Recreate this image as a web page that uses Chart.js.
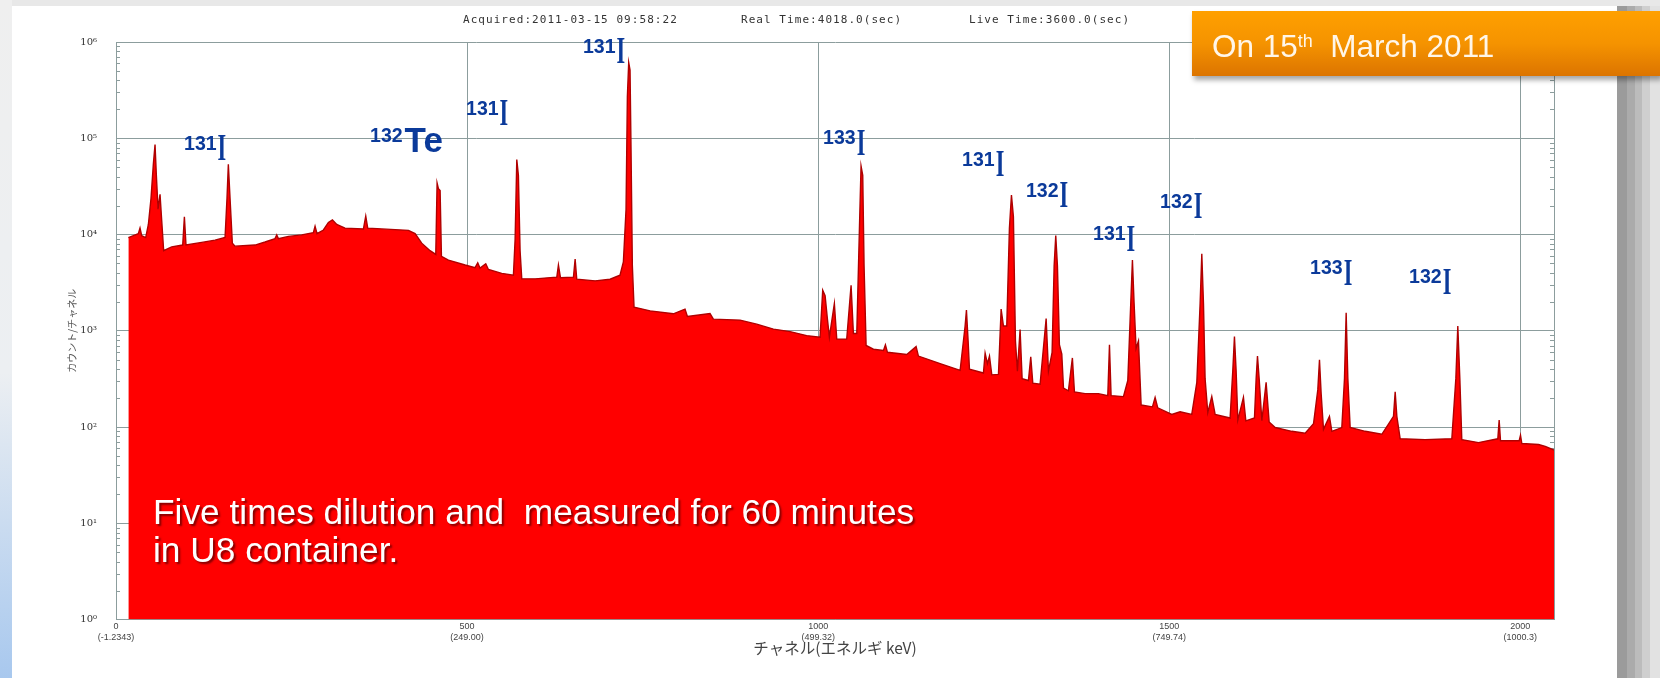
<!DOCTYPE html>
<html>
<head>
<meta charset="utf-8">
<script src="https://cdn.jsdelivr.net/npm/chart.js@4.4.0/dist/chart.umd.min.js"></script>
<style>
html,body{margin:0;padding:0;}
body{width:1660px;height:678px;position:relative;overflow:hidden;background:#fff;font-family:"Liberation Sans",Arial,sans-serif;}
#topband{position:absolute;left:0;top:0;width:1660px;height:6px;background:#e8e8e8;}
#leftband{position:absolute;left:0;top:0;width:12px;height:678px;background:linear-gradient(to bottom,#efefef 0%,#eceff2 55%,#a8c8ee 100%);}
#rightband{position:absolute;left:1617px;top:6px;width:43px;height:672px;background:linear-gradient(to right,#9b9b9b 0,#9b9b9b 10px,#ababab 10px,#ababab 18px,#bcbcbc 18px,#bcbcbc 25px,#cfcfcf 25px,#cfcfcf 33px,#e2e2e2 33px);}
#c{position:absolute;left:0;top:0;}
.hdr{position:absolute;top:14px;font:11px/12px "DejaVu Sans Mono",monospace;letter-spacing:1.05px;color:#333;white-space:pre;}
#datebox{position:absolute;left:1192px;top:11px;width:468px;height:65px;background:linear-gradient(to bottom,#ffa000 0%,#f59300 50%,#dc7400 100%);box-shadow:2px 4px 5px rgba(0,0,0,0.35);}
#datebox .dt{position:absolute;left:20px;top:13.4px;font:31.5px/35px "Liberation Sans",Arial,sans-serif;color:#fff6e8;white-space:pre;}
#datebox .sup{font-size:18px;vertical-align:9.5px;}
#note{position:absolute;left:153px;top:493px;font:35.3px/38px "Liberation Sans",Arial,sans-serif;color:#fff;white-space:pre;text-shadow:2px 2px 2px rgba(90,0,0,0.75);}
</style>
</head>
<body>
<div id="topband"></div>
<div id="leftband"></div>
<div id="rightband"></div>
<canvas id="c" width="1660" height="678"></canvas>
<div class="hdr" style="left:463px">Acquired:2011-03-15 09:58:22</div>
<div class="hdr" style="left:741px">Real Time:4018.0(sec)</div>
<div class="hdr" style="left:969px">Live Time:3600.0(sec)</div>
<div id="datebox"><div class="dt">On 15<span class="sup">th</span>  March 2011</div></div>
<div id="note">Five times dilution and  measured for 60 minutes
in U8 container.</div>
<script>
// ---- spectrum data (channel, counts per channel) ----
const channels = [
17.6,24.7,31.8,34.2,36.6,42.3,46.1,49.9,53.2,55.6,57.5,59.9,62.7,65.1,67.9,79.3,95,97.4,99.7,122,
141,155.3,158.1,160,162.4,165.7,169.5,198,212.3,226.5,228.9,231.3,245.5,264.5,281.1,283.5,286.3,295.4,302.5,308.2,
314.4,326.2,352.4,355.7,358.5,378.5,416.5,426,435.4,447.3,455.4,457.3,459.2,461.6,463.5,473.4,497.2,511.4,515.2,518.5,
526.6,530.4,549.4,566,568.4,570.8,573.1,575.5,577.9,596.9,627.8,630.1,633,651.5,653.9,656.2,682.4,
703.6,717.8,722.6,726.4,728.3,730.2,732.1,733.5,735.4,737.8,760.6,793.8,810.4,813.8,846,850.8,888.8,912.5,936.3,960,
983.7,1002.7,1006.5,1009.9,1013.2,1016,1023.1,1026.5,1040.7,1046.9,1050.2,1055,1058.8,1061.1,1063.5,1065.4,1068.3,1078.7,1093,1095.8,
1098.7,1126.2,1139.5,1142.8,1173.7,1202.2,1209.3,1211.2,1213.6,1215.5,1235.4,1237.8,1241.1,1244,1247.3,1256.8,1260.6,1263.9,1268.6,1272.4,
1275.3,1278.1,1281,1283.8,1287.6,1290.5,1299.5,1302.8,1305.7,1316.1,1324.7,1328,1333.2,1336.1,1338.4,1340.8,1343.6,1347,1349.4,
1356.4,1362.1,1365,1380.2,1399.2,1412.5,1414.9,1417.2,1434.8,1441,1445.2,1447.6,1450,1452.8,1456.2,1460,1476.1,1479.9,1483.7,1503.6,
1515.5,1532.1,1539.3,1544,1546.4,1548.8,1551.1,1554.9,1560.6,1565.4,1586.7,1590.5,1592.9,1595.3,1597.7,1605.7,1609.1,1621.4,1623.8,1625.7,
1628.1,1631.9,1638,1642.3,1650.9,1674.6,1693.6,1705.5,1711.6,1714,1716.4,1719.7,1728.2,1731.6,1745.8,1749.6,1752,1754.4,1757.7,1779.1,
1802.8,1819.4,1821.8,1824.2,1828.9,1864.5,1902.5,1908.2,1911,1913.9,1916.7,1940.5,1968,1969.9,1971.8,1998.4,2000.3,2002.2,2026,2035.5,2048
];
const counts = [
9300,9730,10200,11650,9730,9300,12700,23900,53800,85900,41100,18300,26200,14000,6790,7430,7770,15300,7770,8280,
8730,9300,23900,53800,23900,8130,7570,7770,8360,9060,9910,9060,9550,9910,10470,12200,10200,11140,13330,14200,
12700,11650,11430,15500,11650,11430,11040,10200,8130,6790,6210,34300,30000,28600,5930,5420,4820,4530,5090,4470,
4960,4330,3950,3780,8890,60000,41100,6790,3460,3460,3610,4820,3560,3610,5570,3430,3300,
3430,3780,5180,18300,272000,611000,511000,77100,4730,1760,1610,1500,1680,1410,1510,1320,1290,1170,1040,980,
890,857,2640,2310,1320,857,1920,819,819,2960,938,938,11600,51400,41100,4730,703,643,625,715,
597,566,684,546,456,388,1120,1640,783,398,364,586,456,546,348,352,1680,1120,1120,11600,
25700,15300,783,381,1030,318,304,536,286,278,1340,381,597,4730,9730,4730,715,571,254,
238,522,232,222,222,212,715,212,207,304,1920,5420,1920,653,783,169,162,203,158,135,
144,135,291,1920,6320,1920,318,141,207,135,124,381,871,381,118,203,116,124,318,546,
318,116,291,113,98.7,90.2,86.3,108,243,499,222,94.4,129,90.2,98.7,318,1540,318,98.7,90.2,
84,129,232,129,75.4,74,75.4,318,1120,318,74,68.9,75.4,118,72,72,82,67.4,65.8,63,57.5
];

// ---- axes ----
const xTickChannels = [0, 500, 1000, 1500, 2000];
const xTickEnergies = ['(-1.2343)', '(249.00)', '(499.32)', '(749.74)', '(1000.3)'];
const yTickValues = [1, 10, 100, 1000, 10000, 100000, 1000000];
const yTickLabels = ['10⁰', '10¹', '10²', '10³', '10⁴', '10⁵', '10⁶'];
const xTitle = 'チャネル(エネルギ keV)';
const yTitle = 'カウント/チャネル';

// ---- nuclide annotations (position in channel / counts) ----
const labelMass    = ['131', '132', '131', '131', '133', '131', '132', '131', '132', '133', '132'];
const labelSymbol  = ['I',   'Te',  'I',   'I',   'I',   'I',   'I',   'I',   'I',   'I',   'I'];
const labelChannel = [96.9, 361.8, 498.5, 665.1, 1007, 1205, 1296, 1391.5, 1487, 1700.6, 1841.6];
const labelCount   = [59400, 71900, 137000, 605000, 67100, 40500, 19300, 6740, 14800, 2990, 2410];

const gridColor = '#8c9d9d';
const labelColor = '#0b3a9a';

const points = channels.map((c, i) => ({x: c, y: counts[i]}));

const framePlugin = {
  id: 'frame',
  beforeDatasetsDraw(chart) {
    const {ctx, chartArea: a, scales: {y}} = chart;
    ctx.save();
    ctx.strokeStyle = gridColor;
    ctx.lineWidth = 1;
    ctx.beginPath();
    for (let d = 0; d < 6; d++) {
      for (let k = 2; k <= 9; k++) {
        const py = Math.round(y.getPixelForValue(k * Math.pow(10, d))) + 0.5;
        ctx.moveTo(a.left, py); ctx.lineTo(a.left + 4, py);
        ctx.moveTo(a.right, py); ctx.lineTo(a.right - 4, py);
      }
    }
    ctx.stroke();
    ctx.restore();
  },
  afterDatasetsDraw(chart) {
    const {ctx, chartArea: a, scales: {x, y}} = chart;
    ctx.save();
    ctx.strokeStyle = gridColor;
    ctx.lineWidth = 1;
    ctx.beginPath();
    const rx = Math.round(a.right) + 0.5;
    ctx.moveTo(rx, a.top); ctx.lineTo(rx, a.bottom);
    ctx.stroke();
    // nuclide labels
    ctx.fillStyle = labelColor;
    ctx.textAlign = 'left';
    ctx.textBaseline = 'alphabetic';
    for (let i = 0; i < labelMass.length; i++) {
      const px = x.getPixelForValue(labelChannel[i]);
      const py = y.getPixelForValue(labelCount[i]);
      ctx.font = 'bold 21px "Liberation Sans", Arial, sans-serif';
      const mw = ctx.measureText(labelMass[i]).width * 0.93;
      ctx.save();
      ctx.translate(px, py - 10.5);
      ctx.scale(0.93, 1);
      ctx.fillText(labelMass[i], 0, 0);
      ctx.restore();
      if (labelSymbol[i] === 'I') {
        ctx.font = 'bold 37px "Liberation Serif", "Times New Roman", serif';
        ctx.save();
        ctx.translate(px + mw + 1, py);
        ctx.scale(0.6, 1);
        ctx.fillText('I', 0, 0);
        ctx.restore();
      } else {
        ctx.font = 'bold 35px "Liberation Sans", Arial, sans-serif';
        ctx.fillText(labelSymbol[i], px + mw + 2, py);
      }
    }
    ctx.restore();
  }
};

new Chart(document.getElementById('c'), {
  type: 'line',
  data: {
    datasets: [{
      data: points,
      borderColor: '#b00000',
      borderWidth: 1.4,
      backgroundColor: '#ff0000',
      fill: 'start',
      pointRadius: 0,
      tension: 0
    }]
  },
  options: {
    responsive: false,
    devicePixelRatio: 1,
    animation: false,
    layout: {padding: {left: 0, top: 42, right: 106, bottom: 0}},
    plugins: {legend: {display: false}, tooltip: {enabled: false}},
    scales: {
      x: {
        type: 'linear', min: 0, max: 2048,
        afterBuildTicks: s => { s.ticks = xTickChannels.map(v => ({value: v})); },
        afterFit: s => { s.height = 58.5; },
        grid: {color: gridColor, lineWidth: 1, drawTicks: false},
        border: {color: gridColor, width: 1},
        ticks: {
          autoSkip: false, maxRotation: 0, padding: 2, color: '#444',
          font: {family: '"Liberation Sans", Arial, sans-serif', size: 9, lineHeight: 1.15},
          callback: v => { const i = xTickChannels.indexOf(v); return i < 0 ? '' : [String(v), xTickEnergies[i]]; }
        },
        title: {display: true, text: xTitle, color: '#444',
          font: {family: '"Noto Sans CJK JP", sans-serif', size: 15.5, lineHeight: 1.2},
          padding: {top: 0, bottom: 21}}
      },
      y: {
        type: 'logarithmic', min: 1, max: 1000000,
        afterBuildTicks: s => { s.ticks = yTickValues.map(v => ({value: v})); },
        afterFit: s => { s.width = 116; },
        grid: {color: gridColor, lineWidth: 1, drawTicks: false},
        border: {color: gridColor, width: 1},
        ticks: {
          padding: 19, color: '#333',
          font: {family: '"DejaVu Serif", serif', size: 10},
          callback: v => { const i = yTickValues.indexOf(v); return i < 0 ? '' : yTickLabels[i]; }
        },
        title: {display: true, text: yTitle, color: '#555',
          font: {family: '"Noto Sans CJK JP", sans-serif', size: 10, lineHeight: 1.2},
          padding: {top: 66, bottom: 0}}
      }
    }
  },
  plugins: [framePlugin]
});
</script>
</body>
</html>
